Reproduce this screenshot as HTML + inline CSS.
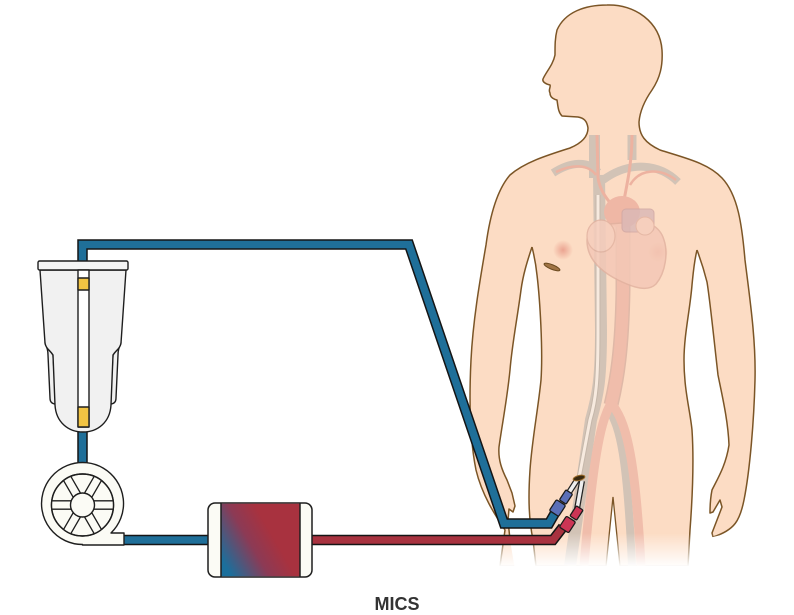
<!DOCTYPE html>
<html>
<head>
<meta charset="utf-8">
<style>
html,body{margin:0;padding:0;background:#fff;}
svg{display:block;}
</style>
</head>
<body>
<svg width="794" height="615" viewBox="0 0 794 615" xmlns="http://www.w3.org/2000/svg">
<defs>
  <linearGradient id="fg" x1="0" y1="0.75" x2="0.75" y2="0.35">
    <stop offset="0" stop-color="#1b6f9c"/>
    <stop offset="0.5" stop-color="#8c3a55"/>
    <stop offset="0.85" stop-color="#a8323f"/>
    <stop offset="1" stop-color="#a8323f"/>
  </linearGradient>
  <linearGradient id="fade" x1="0" y1="0" x2="0" y2="1">
    <stop offset="0" stop-color="#fff" stop-opacity="0"/>
    <stop offset="1" stop-color="#fff" stop-opacity="1"/>
  </linearGradient>
  <radialGradient id="nip">
    <stop offset="0" stop-color="#e89a88" stop-opacity="0.85"/>
    <stop offset="1" stop-color="#e89a88" stop-opacity="0"/>
  </radialGradient>
  <clipPath id="wheel"><circle cx="82.5" cy="505" r="31"/></clipPath>
</defs>

<rect width="794" height="615" fill="#fff"/>

<!-- ===== Human body ===== -->
<path d="M607,5 C635,4 660,22 662,50 C663,66 660,78 652,90 C645,100 640,110 639,122 C639,135 645,143 660,150 C685,158 708,163 722,178 C738,195 742,225 745,260 C750,300 756,340 755,380 C754,420 750,470 744,500 C740,520 735,530 713,537 L713,566 L500,566 L505,530 C495,515 482,495 476,470 C470,440 469,400 471,360 C473,320 480,280 486,245 C490,215 497,190 510,175 C525,162 548,155 570,148 C582,143 588,136 588,128 C587,121 584,118 578,117 L562,116 C558,112 558,106 557,100 C553,99 550,97 550,93 C548,90 551,87 550,85 C546,84 542,82 543,79 C546,72 553,65 555,55 C555,45 555,38 557,30 C565,12 585,5 607,5 Z" fill="#fcdcc4" stroke="#7b5526" stroke-width="1.5" stroke-linejoin="round"/>

<!-- left gap fill -->
<path d="M532,247 C527,262 523,275 521,290 C517,320 512,345 510,370 C507,400 502,425 499,447 C498,460 502,470 507,480 L512,493 L515,506 L513,512 L509,509 L508,520 L510,540 L515,570 L536,570 L533,540 C529,520 528,500 530,470 C532,440 538,410 541,380 C543,350 540,300 537,275 C536,265 534,255 532,247 Z" fill="#fff"/>
<!-- right gap fill -->
<path d="M697,250 C694,262 693,275 692,285 C690,310 684,335 684,360 C684,390 690,410 692,430 C694,460 693,490 690,530 L688,570 L770,570 L770,533 L730,533 L713,537 L712,533 L717,520 L722,507 L720,500 L713,512 L710,513 C710,500 711,495 712,490 C718,478 726,465 729,445 C728,420 722,395 718,375 C714,340 710,300 707,282 C704,270 700,258 697,250 Z" fill="#fff"/>
<g fill="none" stroke="#7b5526" stroke-width="1.5" stroke-linejoin="round">
  <path d="M532,247 C527,262 523,275 521,290 C517,320 512,345 510,370 C507,400 502,425 499,447 C498,460 502,470 507,480 L512,493 L515,506 L513,512 L509,509 L508,520 L510,540"/>
  <path d="M532,247 C534,255 536,265 537,275 C540,300 543,350 541,380 C538,410 532,440 530,470 C528,500 529,520 533,540 L536,566"/>
  <path d="M697,250 C694,262 693,275 692,285 C690,310 684,335 684,360 C684,390 690,410 692,430 C694,460 693,490 690,530 L688,566"/>
  <path d="M697,250 C700,258 704,270 707,282 C710,300 714,340 718,375 C722,395 728,420 729,445 C726,465 718,478 712,490 C711,495 710,500 710,513 L713,512 L720,500 L722,507 L717,520 L712,533 L713,537"/>
</g>
<!-- crotch -->
<path d="M606,570 L613,497 L620,570 Z" fill="#fff" stroke="none"/>
<path d="M606,566 L613,497 L620,566" fill="none" stroke="#7b5526" stroke-width="1.3"/>

<!-- nipples -->
<circle cx="563" cy="250" r="10" fill="url(#nip)"/>
<circle cx="658" cy="252" r="10" fill="url(#nip)"/>
<!-- incision -->
<ellipse cx="552" cy="267" rx="8.5" ry="2.3" transform="rotate(22 552 267)" fill="#a07444" stroke="#6a4a20" stroke-width="1"/>

<!-- ===== vessels ===== -->
<g opacity="0.8" fill="none" stroke-linecap="butt">
  <path d="M594.5,135 L594.5,178" stroke="#c8bdb3" stroke-width="11"/>
  <path d="M632,135 L632,160" stroke="#c8bdb3" stroke-width="9"/>
  <path d="M553,173 C570,162 588,160 598,172" stroke="#c8bdb3" stroke-width="8"/>
  <path d="M678,182 C660,164 630,160 603,180" stroke="#c8bdb3" stroke-width="8"/>
  <path d="M599,175 L601,330 C601,380 598,395 591,420 L570,566" stroke="#c8bdb3" stroke-width="12"/>
  <path d="M609,410 C620,428 627,455 632,566" stroke="#c8bdb3" stroke-width="8"/>
  <path d="M598,195 L598,330 C598,380 596,400 590,420 L579,478" stroke="#b8aea4" stroke-width="5"/>
  <path d="M598,195 L598,330 C598,380 596,400 590,420 L579,478" stroke="#f6eee6" stroke-width="3"/>
  <path d="M597,135 L598,178 C600,190 606,198 612,205" stroke="#eaa898" stroke-width="3"/>
  <path d="M632,135 C632,160 628,180 624,200" stroke="#eaa898" stroke-width="3"/>
  <path d="M556,172 C572,164 588,164 596,175" stroke="#eaa898" stroke-width="2.5"/>
  <path d="M676,180 C660,168 640,168 630,185" stroke="#eaa898" stroke-width="2.5"/>
  <path d="M623,225 L623,290 C622,350 617,380 611,405" stroke="#d9b0a0" stroke-width="15"/>
  <path d="M623,225 L623,290 C622,350 617,380 611,405" stroke="#eeb6a6" stroke-width="12"/>
  <path d="M611,403 C602,420 594,445 584,566" stroke="#eeb6a6" stroke-width="9"/>
  <path d="M611,403 C625,420 635,450 641,566" stroke="#eeb6a6" stroke-width="9"/>
  <ellipse cx="622" cy="212" rx="18" ry="16" fill="#ecae9e" stroke="none"/>
</g>
<!-- heart -->
<g opacity="0.85">
  <path d="M588,232 C583,255 598,270 618,280 C634,288 648,292 656,284 C666,272 668,252 664,240 C660,226 646,219 630,222 C612,225 591,222 588,232 Z" fill="#f4c8b6" stroke="#e2b2a0" stroke-width="1.5"/>
  <ellipse cx="601" cy="236" rx="14" ry="16" fill="#f6cdbc" stroke="#e2b2a0" stroke-width="1.2"/>
  <rect x="622" y="209" width="32" height="23" rx="4" fill="#dcb9b6" stroke="#d0a8a4" stroke-width="1"/>
  <ellipse cx="645" cy="226" rx="9" ry="9" fill="#f6cdbc" stroke="#e2b2a0" stroke-width="1"/>
</g>

<!-- bottom fade -->
<rect x="440" y="533" width="354" height="34" fill="url(#fade)"/>
<rect x="440" y="566" width="354" height="10" fill="#fff"/>

<!-- ===== tubes ===== -->
<g fill="none" stroke-linejoin="miter" stroke-miterlimit="10">
  <path d="M82.5,428 L82.5,466" stroke="#151515" stroke-width="10.5"/>
  <path d="M82.5,428 L82.5,466" stroke="#1f6f99" stroke-width="7.5"/>
  <path d="M118,540 L212,540" stroke="#151515" stroke-width="10.5"/>
  <path d="M118,540 L212,540" stroke="#1f6f99" stroke-width="7.5"/>
  <path d="M82.5,266 L82.5,244.5 L409,244.5 L504,523.5 L549,523.5 L555,513" stroke="#151515" stroke-width="10.5"/>
  <path d="M82.5,266 L82.5,244.5 L409,244.5 L504,523.5 L549,523.5 L555,513" stroke="#1f6f99" stroke-width="7.5"/>
  <path d="M308,540 L553,540 L563,527" stroke="#151515" stroke-width="10.5"/>
  <path d="M308,540 L553,540 L563,527" stroke="#a8323f" stroke-width="7.5"/>
  <!-- cannulas -->
  <path d="M577,480 L568,494" stroke="#222" stroke-width="6"/>
  <path d="M577,480 L568,494" stroke="#eeeeee" stroke-width="3.5"/>
  <path d="M582,481 L577,509" stroke="#222" stroke-width="6"/>
  <path d="M582,481 L577,509" stroke="#eeeeee" stroke-width="3.5"/>
</g>
<ellipse cx="579" cy="478" rx="6" ry="2.5" transform="rotate(-15 579 478)" fill="#3a2a10" stroke="#9a6a28" stroke-width="1"/>
<!-- connectors -->
<g stroke="#1a1a1a" stroke-width="1.3">
  <rect x="-4" y="-6" width="8" height="12" rx="1.2" fill="#5b6fb8" transform="translate(566,497) rotate(33)"/>
  <rect x="-5.5" y="-6.5" width="11" height="13" rx="1.5" fill="#5b6fb8" transform="translate(557.5,508) rotate(33)"/>
  <rect x="-4" y="-6" width="8" height="12" rx="1.2" fill="#cc3555" transform="translate(576.5,513) rotate(33)"/>
  <rect x="-5.5" y="-6.5" width="11" height="13" rx="1.5" fill="#cc3555" transform="translate(567.5,524.5) rotate(33)"/>
</g>

<!-- ===== reservoir ===== -->
<g stroke="#1e1e1e" stroke-width="1.4" stroke-linejoin="round">
  <path d="M45,343 C47,348 48,350 48,355 L50,398 C50,402 52,404 56,404 L53,355 C50,350 46,348 45,343 Z" fill="#f0f0f0"/>
  <path d="M121,343 C119,348 118,350 118,355 L116,398 C116,402 114,404 110,404 L113,355 C116,350 120,348 121,343 Z" fill="#f0f0f0"/>
  <path d="M40,270 L45,343 C46,349 50,350 53,355 L55,405 C56,422 68,432 83,432 C98,432 110,422 111,405 L113,355 C116,350 120,349 121,343 L126,270 Z" fill="#f1f1f1"/>
  <rect x="38" y="261" width="90" height="9" rx="1.5" fill="#f5f5f5"/>
  <rect x="78" y="270" width="11" height="157" fill="#fff"/>
  <rect x="78" y="278" width="11" height="12" fill="#f2c443"/>
  <rect x="78" y="407" width="11" height="20" fill="#f2c443"/>
</g>

<!-- ===== pump ===== -->
<g stroke="#1e1e1e" stroke-width="1.4" stroke-linejoin="round">
  <path d="M82.5,544.5 A41,41 0 1,1 111,533 L124,533 L124,545 L82.5,545 Z" fill="#fbfbf5"/>
  <circle cx="82.5" cy="505" r="31" fill="#fbfbf5"/>
  <g clip-path="url(#wheel)" fill="#fbfbf5" stroke-width="1.3">
    <rect x="11" y="-4.2" width="24" height="8.4" transform="translate(82.5,505) rotate(0)"/>
    <rect x="11" y="-4.2" width="24" height="8.4" transform="translate(82.5,505) rotate(60)"/>
    <rect x="11" y="-4.2" width="24" height="8.4" transform="translate(82.5,505) rotate(120)"/>
    <rect x="11" y="-4.2" width="24" height="8.4" transform="translate(82.5,505) rotate(180)"/>
    <rect x="11" y="-4.2" width="24" height="8.4" transform="translate(82.5,505) rotate(240)"/>
    <rect x="11" y="-4.2" width="24" height="8.4" transform="translate(82.5,505) rotate(300)"/>
  </g>
  <circle cx="82.5" cy="505" r="31" fill="none"/>
  <circle cx="82.5" cy="505" r="12" fill="#fbfbf5"/>
</g>

<!-- ===== oxygenator / filter ===== -->
<g stroke="#1e1e1e" stroke-width="1.5">
  <rect x="208" y="503" width="104" height="74" rx="7" fill="#fbfbf5"/>
  <rect x="221" y="503.7" width="79" height="72.6" fill="url(#fg)" stroke="none"/>
  <line x1="221" y1="503.5" x2="221" y2="576.5"/>
  <line x1="300" y1="503.5" x2="300" y2="576.5"/>
</g>

<!-- label -->
<text x="397" y="610" text-anchor="middle" font-family="'Liberation Sans', Arial, sans-serif" font-weight="bold" font-size="18" fill="#333">MICS</text>
</svg>
</body>
</html>
